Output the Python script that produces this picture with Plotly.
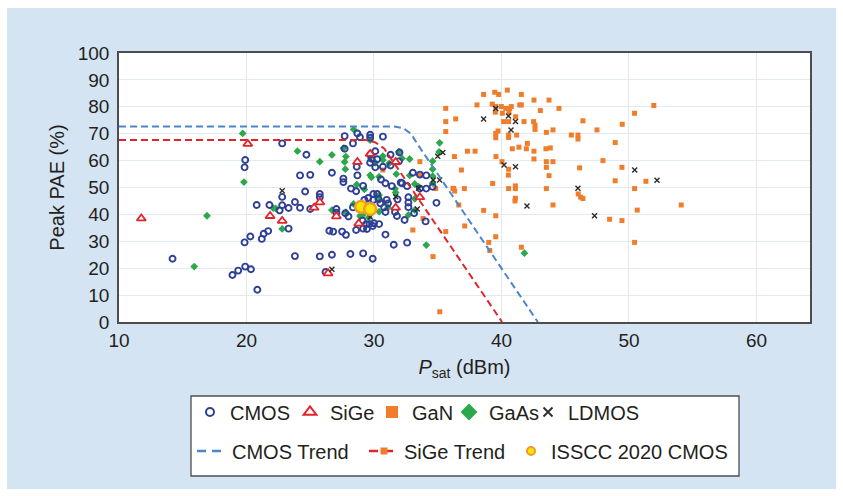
import plotly.graph_objects as go

# ---------------- data ----------------
cmos_x = [14.2, 18.9, 19.35, 19.9, 20.35, 20.85, 19.85, 20.3, 21.2, 21.35, 21.7, 19.9, 19.85, 20.8, 21.8,
          22.8, 22.8, 22.6, 23.3, 23.8, 24.2, 24.6, 22.8, 24.7, 24.2, 25.0, 25.0, 25.75, 25.75, 26.7,
          27.6, 27.6, 27.7, 27.05, 27.05, 26.5, 26.8, 27.5, 27.8, 23.3, 23.8, 25.75, 26.7, 28.15, 29.15,
          29.9, 26.2, 27.75, 28.7, 28.9, 29.7, 29.7, 30.7, 28.35, 27.7, 30.1, 29.7, 29.8, 30.25, 29.7,
          31.3, 32.0, 31.95, 31.3, 30.7, 30.1, 28.65, 28.7, 30.55, 30.9, 31.4, 32.1, 32.6, 29.15, 28.2,
          28.6, 29.95, 30.25, 29.55, 29.25, 29.95, 30.35, 31.0, 30.5, 31.1, 30.8, 31.85, 31.65, 30.9,
          28.35, 28.0, 29.1, 29.4, 29.65, 30.0, 29.15, 29.45, 28.6, 30.9, 31.55, 32.4, 31.8, 29.9, 30.4,
          32.6, 33.05, 32.2, 33.6, 34.1, 33.6, 34.1, 34.6, 32.7, 32.7, 32.7, 34.9, 33.15, 34.05]
cmos_y = [23.5, 17.5, 19.1, 20.6, 19.6, 12.0, 29.6, 31.8, 30.9, 32.8, 33.8, 60.2, 57.5, 43.5, 43.5,
          46.5, 43.4, 41.5, 42.4, 44.6, 42.5, 48.5, 66.4, 62.2, 54.5, 54.7, 42.0, 47.6, 46.4, 55.5,
          53.3, 52.0, 69.1, 42.0, 40.6, 33.9, 33.6, 33.6, 32.4, 34.7, 24.5, 24.4, 25.0, 25.3, 25.5,
          23.5, 18.6, 40.4, 70.1, 68.7, 69.6, 68.5, 68.9, 66.4, 64.4, 63.5, 62.2, 60.7, 60.5, 59.2,
          62.2, 63.0, 59.7, 58.2, 57.7, 57.5, 57.7, 54.5, 53.0, 51.6, 50.5, 51.8, 50.5, 50.6, 49.6,
          48.6, 47.6, 47.6, 46.1, 45.4, 45.4, 45.7, 45.4, 44.1, 44.1, 42.6, 45.6, 40.9, 40.9,
          42.6, 39.2, 37.7, 36.4, 36.4, 36.7, 34.7, 34.6, 34.2, 32.5, 28.7, 37.9, 39.4, 35.7, 36.4,
          29.5, 55.5, 51.6, 54.8, 54.5, 49.6, 49.6, 50.3, 46.4, 44.4, 42.7, 44.3, 40.4, 37.4]

sige_x = [11.75, 20.1, 21.85, 22.8, 25.3, 25.75, 27.05, 26.4, 28.7, 29.7, 31.7, 28.8, 31.7, 33.6]
sige_y = [38.5, 66.2, 39.4, 37.6, 42.5, 44.5, 39.3, 18.1, 59.5, 62.5, 59.5, 36.6, 42.5, 46.4]

gan_x = [38.6, 39.47, 39.78, 40.46, 41.56, 38.08, 39.28, 39.55, 39.99, 40.33, 40.64, 40.77, 41.43, 41.56,
         42.55, 43.73, 43.05, 44.51, 35.63, 35.63, 35.63, 36.41, 39.52, 40.07, 40.59, 40.17, 41.11,
         40.56, 41.77, 42.52, 42.63, 42.63, 39.73, 39.55, 39.55, 40.56, 40.56, 41.19, 43.52, 44.04,
         46.39, 45.48, 46.0, 46.0, 47.49, 49.47, 50.44, 51.95, 48.92, 42.03, 41.37, 40.85, 41.95, 42.55,
         43.49, 43.83, 37.33, 37.93, 36.31, 39.57, 40.04, 42.55, 43.52, 44.04, 43.52, 40.56, 36.86,
         40.54, 43.73, 47.96, 46.13, 49.45, 48.92, 51.33, 50.44, 54.1, 50.65, 49.45, 48.48, 50.44,
         46.02, 46.21, 46.39, 44.04, 43.52, 41.09, 41.09, 40.56, 41.09, 41.06, 39.31, 38.6, 39.55,
         39.55, 39.0, 39.08, 41.56, 37.12, 36.65, 36.2, 36.33, 37.09, 35.63, 34.63, 35.16, 33.6,
         34.84, 33.6, 33.05, 33.85, 36.25, 30.7]
gan_y = [84.6, 85.4, 84.6, 86.2, 84.6, 80.7, 81.0, 80.1, 80.1, 79.4, 79.4, 80.1, 80.7, 80.7,
         82.5, 82.5, 78.6, 79.4, 79.4, 74.5, 70.8, 75.5, 78.0, 77.6, 78.0, 74.5, 76.3,
         74.5, 74.5, 74.5, 73.2, 71.6, 71.0, 70.1, 68.5, 69.5, 68.6, 69.5, 70.5, 71.4,
         74.8, 69.5, 69.5, 68.0, 71.4, 73.5, 77.6, 80.5, 66.7, 66.4, 65.0, 64.4, 64.4, 63.5,
         64.4, 64.7, 63.5, 63.5, 61.5, 61.5, 59.6, 60.6, 59.6, 59.6, 57.5, 56.8, 56.5,
         54.6, 54.4, 60.0, 57.3, 57.5, 52.5, 52.3, 49.6, 43.5, 41.6, 37.7, 38.2, 29.6,
         47.6, 46.4, 45.9, 43.5, 49.6, 50.6, 49.6, 49.6, 46.0, 45.0, 51.5, 41.5, 39.5,
         31.7, 29.6, 26.6, 27.8, 35.7, 43.5, 49.7, 48.7, 49.6, 33.6, 24.3, 3.8, 59.6,
         49.6, 54.6, 34.2, 38.5, 49.6, 56.5]

gaas_x = [19.7, 19.8, 16.9, 15.9, 24.0, 25.75, 26.7, 27.6, 27.8, 27.75, 22.1, 22.3, 22.8, 26.7, 27.8,
          28.4, 29.7, 27.7, 30.7, 31.2, 30.1, 31.75, 29.8, 30.4, 28.65, 31.65, 29.25, 30.45, 31.1,
          29.1, 29.6, 28.4, 31.7, 31.95, 30.7, 32.2, 32.8, 29.75, 29.7, 32.8, 33.5, 34.6, 34.6, 34.6,
          34.6, 35.1, 35.15, 32.7, 33.2, 30.4, 30.4, 28.9, 34.1, 41.8, 33.2, 33.2]
gaas_y = [70.1, 52.0, 39.5, 20.6, 63.5, 59.6, 62.1, 64.6, 61.5, 56.8, 42.3, 42.2, 34.6, 41.6, 40.8,
          71.6, 67.6, 59.5, 61.7, 59.0, 59.2, 55.0, 53.8, 54.0, 51.1, 49.5, 49.3, 45.4, 42.6,
          39.7, 38.9, 43.9, 48.1, 63.3, 60.2, 60.8, 60.6, 61.5, 54.6, 54.5, 50.3, 51.6, 54.2, 56.8,
          59.8, 63.2, 66.6, 39.8, 41.6, 47.2, 41.0, 39.4, 28.6, 25.6, 51.3, 45.8]

ldmos_x = [22.8, 26.7, 29.7, 31.7, 33.4, 33.5, 34.65, 35.15, 35.0, 35.4, 38.6, 39.55, 40.55, 41.1,
           40.75, 40.2, 41.1, 42.0, 46.0, 47.3, 50.45, 52.2]
ldmos_y = [48.8, 19.6, 39.0, 46.6, 42.0, 49.7, 52.8, 52.8, 61.6, 63.0, 75.5, 79.4, 76.6, 74.5,
           71.4, 58.4, 57.7, 43.1, 49.7, 39.5, 56.5, 52.7]

isscc_x = [29.0, 29.7]
isscc_y = [42.8, 42.0]

cmos_trend_x = [10, 31.6, 32.3, 32.9, 33.4, 42.85]
cmos_trend_y = [72.7, 72.7, 72.0, 70.0, 66.2, 0]
sige_trend_x = [10, 29.3, 30.1, 30.8, 40.05]
sige_trend_y = [67.7, 67.7, 66.8, 64.5, 0]

x_ticks = [10, 20, 30, 40, 50, 60]
y_ticks = [0, 10, 20, 30, 40, 50, 60, 70, 80, 90, 100]

# ---------------- styles ----------------
BG = "#d5e4f3"
GRID = "#e2e9f1"
AXC = "#4d4d4d"
TXT = "#231f20"
FONT = "Liberation Sans, Arial, Helvetica, sans-serif"
C_CMOS = "#2e3f95"
C_SIGE = "#e3242b"
C_GAN = "#f07d2b"
C_GAAS = "#2aa84a"
C_LD = "#2a2a2a"
C_CT = "#4d86c6"
C_ST = "#e3242b"

fig = go.Figure()

def data_trace(x, y, marker, mode="markers", line=None):
    kw = dict(x=x, y=y, mode=mode, showlegend=False, hoverinfo="skip")
    if marker is not None:
        kw["marker"] = marker
    if line is not None:
        kw["line"] = line
    fig.add_trace(go.Scatter(**kw))

data_trace(gan_x, gan_y, dict(symbol="square", size=5, color=C_GAN))
data_trace(gaas_x, gaas_y, dict(symbol="diamond", size=6, color=C_GAAS))
data_trace(cmos_x, cmos_y, dict(symbol="circle-open", size=6, color=C_CMOS, line=dict(width=1.9, color=C_CMOS)))
data_trace(sige_x, sige_y, dict(symbol="triangle-up", size=8, color="white", line=dict(width=1.8, color=C_SIGE)))
data_trace(ldmos_x, ldmos_y, dict(symbol="x-thin", size=5, color=C_LD, line=dict(width=1.4, color=C_LD)))
data_trace(cmos_trend_x, cmos_trend_y, None, mode="lines", line=dict(color=C_CT, width=2, dash="7px,4px"))
data_trace(sige_trend_x, sige_trend_y, None, mode="lines", line=dict(color=C_ST, width=2, dash="7px,4px"))
data_trace(isscc_x, isscc_y, dict(symbol="circle", size=12, color="#ffe400", line=dict(width=2.4, color="#f39a2e")))

# ---------------- legend-only entries, one legend per item ----------------
W, H = 843, 496
L, R, T, B = 119, 33, 53, 174
PW, PH = W - L - R, H - T - B

def px2x(px):
    return (px - L) / PW

def py2y(py):
    return (H - B - py) / PH

# (name, mode, marker, line, symbol-centre px, row-centre px)
legend_items = [
    ("CMOS", "markers", dict(symbol="circle-open", size=8, color=C_CMOS, line=dict(width=2, color=C_CMOS)), None, 210, 412),
    ("SiGe", "markers", dict(symbol="triangle-up", size=11, color="white", line=dict(width=2, color=C_SIGE)), None, 310, 412),
    ("GaN", "markers", dict(symbol="square", size=12, color=C_GAN), None, 392, 412),
    ("GaAs", "markers", dict(symbol="diamond", size=13, color=C_GAAS), None, 469, 412),
    ("LDMOS", "markers", dict(symbol="x-thin", size=9, color=C_LD, line=dict(width=1.8, color=C_LD)), None, 548, 412),
    ("CMOS Trend", "lines", None, dict(color=C_CT, width=2.5, dash="9px,6px"), 212, 451),
    ("SiGe Trend", "lines+markers", dict(symbol="square", size=7, color=C_GAN), dict(color=C_ST, width=2.5, dash="9px,6px"), 384, 451),
    ("ISSCC 2020 CMOS", "markers", dict(symbol="circle", size=8, color="#ffe400", line=dict(width=2, color="#f39a2e")), None, 531, 451),
]

layout_legends = {}
for i, (name, mode, mk, ln, sx, ly) in enumerate(legend_items):
    lid = "legend" if i == 0 else f"legend{i + 1}"
    kw = dict(x=[None], y=[None], mode=mode, name=name, showlegend=True, legend=lid, hoverinfo="skip")
    if mk is not None:
        kw["marker"] = mk
    if ln is not None:
        kw["line"] = ln
    fig.add_trace(go.Scatter(**kw))
    layout_legends[lid] = dict(
        x=px2x(sx - 20), y=py2y(ly), xanchor="left", yanchor="middle", orientation="h",
        bgcolor="rgba(0,0,0,0)", borderwidth=0,
        font=dict(family=FONT, size=20, color=TXT),
    )

# ---------------- shapes: white frame and legend box ----------------
shapes = [
    dict(type="rect", xref="paper", yref="paper", x0=-2, x1=px2x(7), y0=-3, y1=3, fillcolor="white", line=dict(width=0), layer="above"),
    dict(type="rect", xref="paper", yref="paper", x0=-2, x1=3, y0=py2y(8), y1=3, fillcolor="white", line=dict(width=0), layer="above"),
    dict(type="rect", xref="paper", yref="paper", x0=px2x(836), x1=3, y0=-3, y1=3, fillcolor="white", line=dict(width=0), layer="above"),
    dict(type="rect", xref="paper", yref="paper", x0=-2, x1=3, y0=-3, y1=py2y(489), fillcolor="white", line=dict(width=0), layer="above"),
    dict(type="rect", xref="paper", yref="paper", x0=px2x(191), x1=px2x(739), y0=py2y(476), y1=py2y(396),
         fillcolor="white", line=dict(width=1.3, color=AXC), layer="above"),
]

fig.update_layout(
    width=W, height=H,
    margin=dict(l=L, r=R, t=T, b=B, autoexpand=False),
    paper_bgcolor=BG, plot_bgcolor="white",
    font=dict(family=FONT, size=19, color=TXT),
    shapes=shapes,
    xaxis=dict(
        range=[10, 64.2], tickvals=x_ticks, ticktext=[str(v) for v in x_ticks],
        showgrid=True, gridcolor=GRID, gridwidth=1, zeroline=False,
        showline=True, linecolor=AXC, linewidth=1.5, mirror=True,
        ticks="",
        tickfont=dict(size=19), automargin=False,
        title=dict(text="<i>P</i><sub>sat</sub> (dBm)", font=dict(size=20), standoff=10),
    ),
    yaxis=dict(
        range=[0, 100], tickvals=y_ticks, ticktext=[str(v) for v in y_ticks],
        showgrid=True, gridcolor=GRID, gridwidth=1, zeroline=False,
        showline=True, linecolor=AXC, linewidth=1.5, mirror=True,
        ticks="outside", ticklen=4, tickcolor="rgba(0,0,0,0)",
        tickfont=dict(size=19), automargin=False,
        title=dict(text="Peak PAE (%)", font=dict(size=20), standoff=8),
    ),
    **layout_legends,
)

fig.write_html("out.html")
